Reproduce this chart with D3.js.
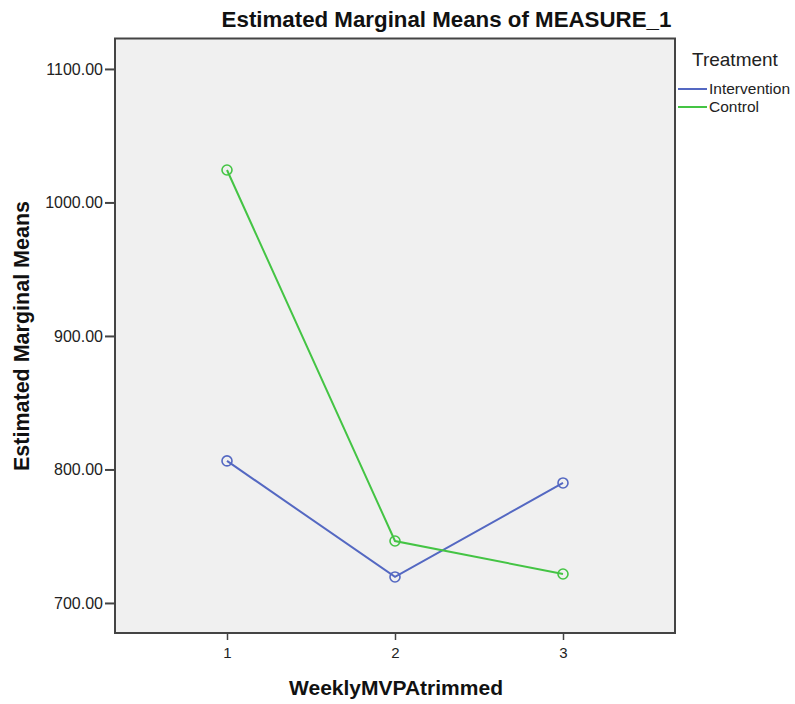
<!DOCTYPE html>
<html><head><meta charset="utf-8">
<script src="https://cdn.jsdelivr.net/npm/d3@7"></script>
<style>body{margin:0;background:#fff;}svg{display:block;font-family:"Liberation Sans",Arial,sans-serif;}</style>
</head><body>
<svg id="chart" width="795" height="704"></svg>
<script>
const categories = [1, 2, 3];
const intervention = [806.4, 719.5, 789.9];
const control = [1024.3, 746.4, 721.7];
const yTicks = [700, 800, 900, 1000, 1100];
const seriesNames = ["Intervention", "Control"];
const seriesColors = ["#5468c2", "#44c444"];

const svg = d3.select("#chart");
const L = 115, R = 675, T = 38.5, B = 633;
const x = d3.scaleLinear().domain([1/3, 11/3]).range([L, R]);
const y = d3.scaleLinear().domain([677.5, 1122.8]).range([B, T]);

svg.append("rect").attr("x", L).attr("y", T).attr("width", R - L).attr("height", B - T)
  .attr("fill", "#f0f0f0").attr("stroke", "#444").attr("stroke-width", 2);

const yAxis = svg.append("g").attr("transform", `translate(${L},0)`)
  .call(d3.axisLeft(y).tickValues(yTicks).tickFormat(d3.format(".2f")).tickSize(10).tickPadding(2));
yAxis.select(".domain").remove();
yAxis.selectAll(".tick line").attr("stroke", "#444").attr("stroke-width", 2);
yAxis.selectAll(".tick text").attr("font-size", 16).attr("fill", "#222").attr("font-family", "Liberation Sans, Arial, sans-serif");

const xAxis = svg.append("g").attr("transform", `translate(0,${B})`)
  .call(d3.axisBottom(x).tickValues(categories).tickFormat(d3.format("d")).tickSize(7).tickPadding(7));
xAxis.select(".domain").remove();
xAxis.selectAll(".tick line").attr("stroke", "#444").attr("stroke-width", 1.5);
xAxis.selectAll(".tick text").attr("font-size", 15).attr("fill", "#222").attr("font-family", "Liberation Sans, Arial, sans-serif");

const allSeries = [intervention, control];
const line = d3.line().x((d, i) => x(categories[i])).y(d => y(d));
allSeries.forEach((s, k) => {
  svg.append("path").datum(s).attr("d", line).attr("fill", "none")
    .attr("stroke", seriesColors[k]).attr("stroke-width", 2);
  svg.selectAll(null).data(s).enter().append("circle")
    .attr("cx", (d, i) => x(categories[i])).attr("cy", d => y(d)).attr("r", 5)
    .attr("fill", "none").attr("stroke", seriesColors[k]).attr("stroke-width", 1.6);
});

svg.append("text").attr("x", 446.5).attr("y", 27).attr("text-anchor", "middle")
  .attr("font-size", 22.3).attr("font-weight", "bold").attr("fill", "#111")
  .text("Estimated Marginal Means of MEASURE_1");
svg.append("text").attr("transform", `translate(29,336) rotate(-90)`)
  .attr("text-anchor", "middle").attr("font-size", 21.5).attr("font-weight", "bold").attr("fill", "#111")
  .text("Estimated Marginal Means");
svg.append("text").attr("x", 396).attr("y", 695).attr("text-anchor", "middle")
  .attr("font-size", 21).attr("font-weight", "bold").attr("fill", "#111")
  .text("WeeklyMVPAtrimmed");

svg.append("text").attr("x", 692).attr("y", 66).attr("font-size", 19).attr("fill", "#222").text("Treatment");
seriesNames.forEach((n, k) => {
  const yy = 89 + k * 18;
  svg.append("line").attr("x1", 678).attr("x2", 707).attr("y1", yy).attr("y2", yy)
    .attr("stroke", seriesColors[k]).attr("stroke-width", 2);
  svg.append("text").attr("x", 709).attr("y", yy + 5).attr("font-size", 15.5).attr("fill", "#222").text(n);
});
</script>
</body></html>
